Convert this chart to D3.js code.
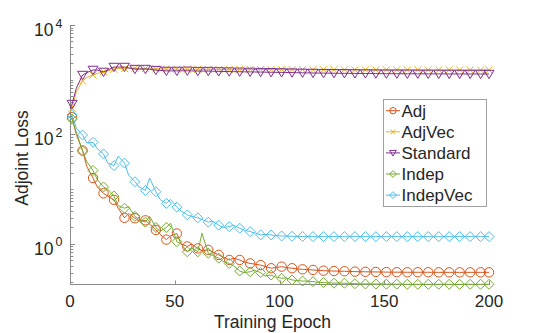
<!DOCTYPE html>
<html><head><meta charset="utf-8">
<script src="https://cdn.jsdelivr.net/npm/d3@7"></script>
<style>body{margin:0;background:#fff}svg{display:block}text{font-family:"Liberation Sans",Arial,Helvetica,sans-serif;fill:#262626}</style>
</head><body><svg id="c" width="540" height="333"></svg>
<script>
// x positions of line vertices: epoch 0, then (marker epoch 1+5k, between epoch 3+5k) for k=0..39, then 200
const lineEpochs = [0].concat(d3.range(40).flatMap(k => [1 + 5 * k, 3 + 5 * k])).concat([200]);

const seriesNames = ["Adj", "AdjVec", "Standard", "Indep", "IndepVec"];

// values in the same order as lineEpochs (82 values each)
const adj = [230,
 206,100, 51,26, 16,11, 8.4,7.5, 6.4,4.5, 3.0,3.6, 2.95,2.6, 2.7,2.3, 1.8,1.5, 1.2,1.4,
 1.55,1.0, 0.9,1.0, 0.83,0.75, 0.78,0.72, 0.63,0.58, 0.51,0.55, 0.51,0.47, 0.44,0.43, 0.41,0.39, 0.36,0.37,
 0.385,0.37, 0.36,0.35, 0.344,0.34, 0.335,0.33, 0.325,0.322, 0.32,0.318, 0.317,0.315, 0.312,0.311, 0.31,0.309, 0.308,0.307,
 0.306,0.305, 0.305,0.305, 0.304,0.304, 0.304,0.304, 0.304,0.303, 0.303,0.303, 0.303,0.303, 0.303,0.303, 0.303,0.303, 0.303,0.303,
 0.303];
const adjVec = [260,
 300,600, 950,1100, 1220,1300, 1400,1450, 1550,1600, 1600,1620, 1620,1600, 1600,1590, 1580,1575, 1570,1565,
 1560,1558, 1555,1553, 1550,1550, 1550,1548, 1546,1545, 1544,1543, 1542,1541, 1540,1539, 1538,1537, 1536,1535,
 1534,1533, 1532,1531, 1530,1529, 1528,1527, 1526,1525, 1524,1523, 1522,1521, 1520,1519, 1518,1518, 1517,1517,
 1516,1516, 1515,1515, 1514,1514, 1513,1513, 1512,1512, 1512,1511, 1511,1511, 1511,1510, 1510,1510, 1510,1510,
 1510];
const standard = [300,
 360,700, 1220,1350, 1510,1500, 1390,1500, 1710,1700, 1710,1650, 1570,1560, 1570,1550, 1500,1480, 1450,1450,
 1450,1455, 1460,1450, 1440,1440, 1440,1430, 1420,1415, 1410,1405, 1400,1395, 1390,1385, 1380,1375, 1370,1365,
 1360,1355, 1350,1345, 1340,1335, 1330,1325, 1320,1318, 1315,1312, 1310,1308, 1305,1302, 1300,1298, 1295,1292,
 1290,1289, 1288,1286, 1285,1284, 1283,1282, 1280,1279, 1278,1277, 1276,1276, 1275,1275, 1274,1274, 1273,1273,
 1273];
const indep = [210,
 190,110, 50,32, 22,15, 11,10, 7.5,5.0, 4.5,4.8, 3.2,2.8, 2.5,3.2, 2.0,1.7, 2.0,2.4,
 1.1,1.0, 0.72,0.85, 0.72,1.57, 0.68,0.62, 0.55,0.48, 0.44,0.40, 0.32,0.30, 0.31,0.33, 0.30,0.26, 0.27,0.25,
 0.236,0.24, 0.22,0.215, 0.21,0.21, 0.205,0.2, 0.197,0.195, 0.192,0.193, 0.192,0.19, 0.188,0.187, 0.186,0.186, 0.185,0.185,
 0.184,0.184, 0.184,0.184, 0.183,0.183, 0.183,0.183, 0.183,0.183, 0.183,0.183, 0.183,0.183, 0.183,0.183, 0.183,0.183, 0.183,0.183,
 0.183];
const indepVec = [240,
 227,130, 98,70, 72,55, 44,30, 27,40, 30,18, 13.7,11, 9.5,16, 9.0,6.5, 5.5,6.5,
 4.7,4.0, 3.4,3.2, 3.0,2.8, 2.5,2.6, 2.2,2.0, 2.07,2.2, 1.94,1.8, 1.68,1.6, 1.46,1.5, 1.46,1.42,
 1.40,1.39, 1.38,1.37, 1.37,1.36, 1.36,1.36, 1.36,1.36, 1.36,1.36, 1.36,1.36, 1.36,1.36, 1.36,1.36, 1.36,1.36,
 1.36,1.36, 1.36,1.36, 1.36,1.36, 1.36,1.36, 1.36,1.36, 1.36,1.36, 1.36,1.36, 1.36,1.36, 1.36,1.36, 1.36,1.36,
 1.36];

const xTicks = [0, 50, 100, 150, 200];
const yTickExps = [0, 2, 4];

const colors = ["#D95319", "#EDB120", "#7E2F8E", "#77AC30", "#4DBEEE"];
const markers = ["circle", "x", "triDown", "diamond", "diamond"];
const seriesValues = [adj, adjVec, standard, indep, indepVec];

const svg = d3.select("#c");
const x = d3.scaleLinear().domain([0, 200]).range([70, 489]);
const y = d3.scaleLog().domain([Math.pow(10, -0.75), 1e4]).range([285, 25]);

function markerPath(type, s) {
  const k = s;
  if (type === "circle") return null;
  if (type === "x") return `M${-3.5*k},${-3.5*k}L${3.5*k},${3.5*k}M${-3.5*k},${3.5*k}L${3.5*k},${-3.5*k}`;
  if (type === "triDown") return `M${-5*k},${-3.7*k}L${5*k},${-3.7*k}L0,${4.6*k}Z`;
  if (type === "diamond") return `M0,${-5*k}L${5*k},0L0,${5*k}L${-5*k},0Z`;
}
function drawMarker(g, type, cx, cy, color, s) {
  if (type === "circle") {
    g.append("circle").attr("cx", cx).attr("cy", cy).attr("r", 4.7 * s)
      .attr("fill", "none").attr("stroke", color).attr("stroke-width", 1);
  } else {
    g.append("path").attr("d", markerPath(type, s)).attr("transform", `translate(${cx},${cy})`)
      .attr("fill", "none").attr("stroke", color).attr("stroke-width", 1);
  }
}

// axes
const axisColor = "#8a8a8a";
svg.append("line").attr("x1", 70.5).attr("x2", 70.5).attr("y1", y.range()[1]).attr("y2", 285)
  .attr("stroke", axisColor).attr("stroke-width", 1);
svg.append("line").attr("x1", 70).attr("x2", 489).attr("y1", 284.5).attr("y2", 284.5)
  .attr("stroke", axisColor).attr("stroke-width", 1);

// y minor ticks
const minor = [];
for (let e = -1; e < 4; e++) for (let m = 1; m <= 9; m++) {
  const v = m * Math.pow(10, e);
  if (v >= y.domain()[0] && v <= 1e4 && !(m === 1 && yTickExps.includes(e))) minor.push(v);
}
svg.selectAll(".ymin").data(minor).enter().append("line")
  .attr("x1", 70.5).attr("x2", 73.3).attr("y1", d => Math.round(y(d)) + 0.5).attr("y2", d => Math.round(y(d)) + 0.5)
  .attr("stroke", axisColor).attr("stroke-width", 1);
svg.selectAll(".ymaj").data(yTickExps).enter().append("line")
  .attr("x1", 70.5).attr("x2", 75).attr("y1", d => Math.round(y(Math.pow(10, d))) + 0.5).attr("y2", d => Math.round(y(Math.pow(10, d))) + 0.5)
  .attr("stroke", axisColor).attr("stroke-width", 1);
yTickExps.forEach(e => {
  const yy = y(Math.pow(10, e));
  svg.append("text").attr("x", 53.5).attr("y", yy + 11).attr("text-anchor", "end")
    .attr("font-size", 17.5).text("10");
  svg.append("text").attr("x", 55.5).attr("y", yy + 2.5).attr("font-size", 12.5).text(String(e));
});

// x ticks
svg.selectAll(".xt").data(xTicks).enter().append("line")
  .attr("x1", d => Math.round(x(d)) + 0.5).attr("x2", d => Math.round(x(d)) + 0.5).attr("y1", 285).attr("y2", 280.5)
  .attr("stroke", axisColor).attr("stroke-width", 1);
svg.selectAll(".xl").data(xTicks).enter().append("text")
  .attr("x", d => x(d)).attr("y", 306.5).attr("text-anchor", "middle").attr("font-size", 17)
  .text(d => d);

// axis labels
svg.append("text").attr("x", 272.5).attr("y", 328).attr("text-anchor", "middle").attr("font-size", 17.5)
  .text("Training Epoch");
svg.append("text").attr("transform", "translate(28,158) rotate(-90)").attr("text-anchor", "middle")
  .attr("font-size", 17.5).text("Adjoint Loss");

// series
const line = d3.line().x((d, i) => x(lineEpochs[i])).y(d => y(d));
seriesValues.forEach((vals, si) => {
  const g = svg.append("g");
  g.append("path").attr("d", line(vals)).attr("fill", "none").attr("stroke", colors[si]).attr("stroke-width", 1);
  vals.forEach((v, i) => {
    if (i % 2 === 1) drawMarker(g, markers[si], x(lineEpochs[i]), y(v), colors[si], 1);
  });
});

// legend
const lg = svg.append("g");
lg.append("rect").attr("x", 383.5).attr("y", 99.5).attr("width", 103).attr("height", 107)
  .attr("fill", "#fff").attr("stroke", "#a0a0a0").attr("stroke-width", 1);
const legendY = [110.7, 131.8, 152.9, 174, 195.1];
seriesNames.forEach((name, i) => {
  const cy = legendY[i];
  lg.append("line").attr("x1", 386).attr("x2", 400).attr("y1", cy).attr("y2", cy)
    .attr("stroke", colors[i]).attr("stroke-width", 1);
  drawMarker(lg, markers[i], 393, cy, colors[i], 0.68);
  lg.append("text").attr("x", 401.5).attr("y", cy + 6).attr("font-size", 17).text(name);
});
</script></body></html>
